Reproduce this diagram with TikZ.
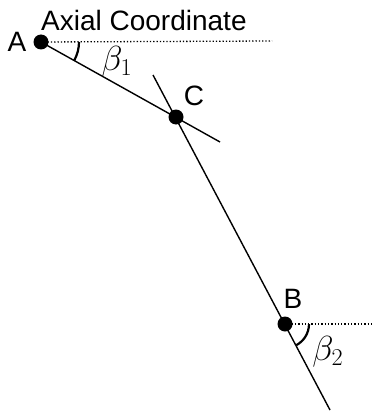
\documentclass[tikz,border=0pt]{standalone}
\usepackage{graphicx}
\usepackage{fontspec}
\setmainfont{Liberation Sans}
\newcommand{\bigsym}[1]{\scalebox{1.4}{\fontsize{24}{26}\selectfont$#1$}}
\begin{document}
\begin{tikzpicture}[x=1pt,y=-1pt,
  dot/.style={circle,fill=black,inner sep=0pt,minimum size=15pt},
  lbl/.style={font=\fontsize{28}{30}\selectfont,inner sep=0pt},
  glbl/.style={inner sep=0pt},
  ref/.style={dotted,line width=1.3pt},
  seg/.style={line width=1.4pt},
  ang/.style={line width=2.2pt}]
\useasboundingbox (0,0) rectangle (372,412);
\node[dot] (A) at (41,42) {};
\node[dot] (C) at (176,117) {};
\node[dot] (B) at (285,324) {};
\coordinate (Ae) at (272,41);
\coordinate (Be) at (372,324);
\coordinate (C1) at (220,142);
\coordinate (C0) at (153,75);
\coordinate (Bend) at (330,410);
\draw[seg] (A.center) -- (C1);
\draw[seg] (C0) -- (Bend);
\draw[ref] (A.center) -- (Ae);
\draw[ref] (B.center) -- (Be);
\draw[ang] (A.center) ++(0:38) arc[start angle=0,end angle=29,radius=38];
\draw[ang] (B.center) ++(0:24) arc[start angle=0,end angle=62,radius=24];
\node[lbl,anchor=west] (ax) at (41,20) {Axial Coordinate};
\node[lbl] (la) at (17,42) {A};
\node[lbl] (lc) at (194,96) {C};
\node[lbl] (lb) at (293,299) {B};
\node[glbl] (b1) at (117,62) {\bigsym{\beta_1}};
\node[glbl] (b2) at (328,352) {\bigsym{\beta_2}};
\end{tikzpicture}
\end{document}
